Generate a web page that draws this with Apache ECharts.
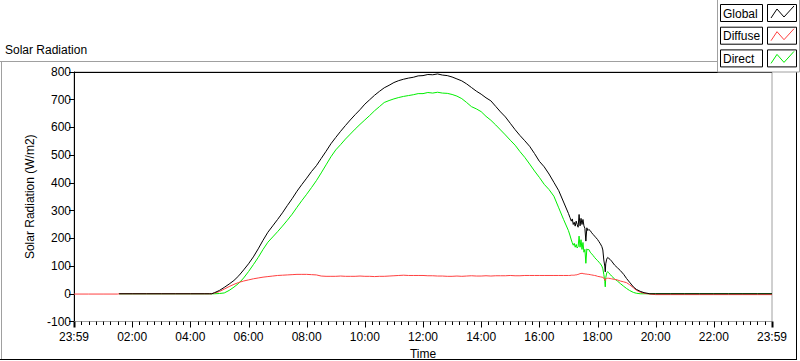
<!DOCTYPE html>
<html>
<head>
<meta charset="utf-8">
<script src="https://cdn.jsdelivr.net/npm/echarts@6/dist/echarts.min.js"></script>
<style>
html,body{margin:0;padding:0;background:#fff;}
#chart{width:800px;height:361px;}
</style>
</head>
<body>
<div id="chart"></div>
<script>
// time of day in minutes (0 and 1440 are both shown as 23:59)
const timeMin = [0,30,60,90,93,120,150,180,210,240,270,280,284,290,300,310,320,330,340,350,360,370,380,390,400,410,420,430,440,450,460,470,480,490,500,510,520,530,540,550,560,570,580,590,600,610,620,630,640,650,660,670,680,690,700,710,720,730,740,750,760,770,780,790,800,810,820,830,840,850,860,870,880,890,900,910,920,930,940,950,960,970,980,990,1000,1010,1020,1023,1026,1028,1030,1032,1034,1036,1038,1040,1042,1044,1046,1048,1050,1052,1054,1056,1058,1060,1062,1065,1068,1071,1074,1077,1080,1083,1086,1089,1091,1093,1095,1096,1097,1099,1101,1103,1106,1109,1115,1121,1127,1134,1140,1146,1154,1160,1168,1176,1188,1200,1230,1260,1290,1320,1350,1380,1410,1440];

const globalW = [null,null,null,null,0,0,0,0,0,0,0,0,0,4,12,23,35,48,65,86,108,133,162,193,222,245,268,292,318,343,370,394,417,441,462,488,514,541,564,586,607,627,646,664,684,700,716,730,743,752,762,769,774,778,781,786,787,791,790,793,789,787,782,775,768,757,744,731,720,707,696,676,656,638,615,592,571,552,532,506,478,458,432,402,372,331,290,276,262,270,250,258,244,262,250,240,286,245,272,250,268,245,236,190,238,228,232,228,220,214,208,202,196,188,180,170,158,122,100,79,108,125,131,128,124,118,104,94,84,70,55,42,25,16,9,4,0,0,0,0,0,0,0,0,0,0];

const diffuseW = [-1,-1,-1,-1,0,0,0,0,0,0,0,0,0,3,8,17,26,34,41,46,50,54,57,60,62,64,66,67,68,69,70,70,70,69,68,64,63,63,63,64,63,63,63,64,63,63,62,63,63,64,65,66,67,66,66,66,66,65,65,64,64,63,63,64,63,64,65,64,64,65,64,65,65,65,66,65,65,66,66,66,66,66,66,66,66,66,66,66,67,67,67,67,68,68,69,70,71,73,73,74,73,72,72,71,71,70,70,69,68,67,66,65,63,62,61,60,59,57,50,48,54,56,56,56,55,54,52,50,46,43,40,33,22,13,6,2,-1,-3,-3,-3,-3,-3,-3,-3,-3,-3];

const directW = [null,null,null,null,0,0,0,0,0,0,0,0,0,0,1,3,12,24,38,57,80,105,131,160,186,205,224,244,265,287,312,336,359,383,408,436,465,494,519,538,558,576,594,611,627,643,660,675,690,697,703,708,712,715,718,722,722,726,724,727,724,723,719,713,704,690,675,667,657,640,626,609,591,573,554,536,513,492,468,443,420,395,376,352,310,268,228,212,194,184,175,182,168,178,165,170,208,168,195,160,185,150,160,110,162,158,160,150,144,138,131,125,120,114,108,100,90,70,45,25,58,75,80,76,70,64,54,46,37,27,19,12,5,2,0,0,0,0,0,0,0,0,0,0,0,0];

const seriesNames = ['Global','Diffuse','Direct'];
const yTicks = {min:-100, max:800, step:100};
const xTicks = {min:0, max:1440, step:120, minorStep:15};

function pairs(vals){ return timeMin.map((t,i)=>[t, vals[i]===null ? '-' : vals[i]]); }
function fmtTime(v){
  if (v===0 || v===1440) return '23:59';
  const h = Math.round(v/60);
  return (h<10?'0':'')+h+':00';
}

// tick positions along the time axis (major every 2 h, minor every 15 min)
const tickMinutes = [];
for (let m = xTicks.min; m <= xTicks.max; m += xTicks.minorStep) tickMinutes.push(m);

const FONT = 'Liberation Sans';
const chart = echarts.init(document.getElementById('chart'), null, {renderer:'svg'});

function legendItem(i, name, color){
  const y0 = 4 + i*22.7;
  const pts = [[771,y0+14],[777,y0+5],[784,y0+13],[794,y0+2]];
  return [
    {type:'rect', shape:{x:720.5,y:y0+0.5,width:42,height:17}, style:{fill:'#fff',stroke:'#000',lineWidth:1}, z:101},
    {type:'text', x:723, y:y0+9.5, style:{text:name, fill:'#000', font:'12px '+FONT, textVerticalAlign:'middle'}, z:102},
    {type:'rect', shape:{x:767.5,y:y0+0.5,width:29,height:17}, style:{fill:'#fff',stroke:'#000',lineWidth:1}, z:101},
    {type:'polyline', shape:{points:pts}, style:{stroke:color, lineWidth:1, fill:null}, z:102}
  ];
}

const colors = ['#000000','#ff4040','#00ee00'];

const frame = [
  {type:'line', shape:{x1:74,y1:72.5,x2:772,y2:72.5}, style:{stroke:'#000',lineWidth:1}, z:90},
  {type:'line', shape:{x1:0,y1:61.5,x2:717,y2:61.5}, style:{stroke:'#a0a0a0',lineWidth:1}, z:90},
  {type:'line', shape:{x1:1.5,y1:61.5,x2:1.5,y2:360}, style:{stroke:'#a0a0a0',lineWidth:1}, z:90},
  {type:'line', shape:{x1:0,y1:359.5,x2:797,y2:359.5}, style:{stroke:'#000',lineWidth:1}, z:90},
  {type:'line', shape:{x1:796.5,y1:72,x2:796.5,y2:360}, style:{stroke:'#000',lineWidth:1}, z:90},
  {type:'rect', shape:{x:717.5,y:-1,width:82,height:73}, style:{fill:'#fff',stroke:'#a0a0a0',lineWidth:1}, z:100}
].concat(legendItem(0,seriesNames[0],colors[0]), legendItem(1,seriesNames[1],colors[1]), legendItem(2,seriesNames[2],colors[2]));

const option = {
  animation:false,
  backgroundColor:'#fff',
  textStyle:{fontFamily:FONT},
  title:{text:'Solar Radiation', left:5, top:44, padding:0, textStyle:{fontSize:12, fontWeight:'normal', color:'#000', fontFamily:FONT}},
  grid:{left:74, right:28, top:72, bottom:39.5, containLabel:false, outerBoundsMode:'none', show:true, borderColor:'#a0a0a0', borderWidth:1},
  xAxis:{
    type:'value', position:'bottom', min:xTicks.min, max:xTicks.max, interval:xTicks.step,
    name:'Time', nameLocation:'middle', nameGap:26,
    nameTextStyle:{fontSize:12, color:'#000', fontFamily:FONT},
    axisLine:{show:true, onZero:false, lineStyle:{color:'#a0a0a0', width:1}},
    axisTick:{show:false},
    axisLabel:{formatter:fmtTime, fontSize:12, color:'#000', margin:9, fontFamily:FONT},
    splitLine:{show:false}
  },
  yAxis:{
    type:'value', min:yTicks.min, max:yTicks.max, interval:yTicks.step,
    name:'Solar Radiation (W/m2)', nameLocation:'middle', nameGap:37, nameRotate:90,
    nameTextStyle:{fontSize:12, color:'#000', fontFamily:FONT},
    axisLine:{show:true, onZero:false, lineStyle:{color:'#000'}},
    axisTick:{show:true, length:5, lineStyle:{color:'#000'}},
    axisLabel:{fontSize:12, color:'#000', margin:3, fontFamily:FONT},
    splitLine:{show:false}
  },
  series:[
    {name:seriesNames[2], type:'line', data:pairs(directW), showSymbol:false, lineStyle:{color:colors[2], width:1}, itemStyle:{color:colors[2]}, z:2},
    {name:seriesNames[1], type:'line', data:pairs(diffuseW), showSymbol:false, lineStyle:{color:colors[1], width:1}, itemStyle:{color:colors[1]}, z:3},
    {name:seriesNames[0], type:'line', data:pairs(globalW), showSymbol:false, lineStyle:{color:colors[0], width:1}, itemStyle:{color:colors[0]}, z:4},
    {
      name:'timeTicks', type:'custom', silent:true, clip:false, z:10,
      data: tickMinutes.map(m => [m, yTicks.min]),
      encode:{x:0, y:1},
      renderItem: function(params, api){
        const m = api.value(0);
        const p = api.coord([m, yTicks.min]);
        const major = (m % xTicks.step) === 0;
        const edge = (m === xTicks.min || m === xTicks.max);
        const x = Math.round(p[0]) + 0.5;
        return {
          type:'line',
          shape:{x1:x, y1:p[1], x2:x, y2:p[1] + (major ? 6 : 3.5)},
          style:{stroke:'#000', lineWidth: edge ? 2 : 1}
        };
      }
    }
  ],
  graphic:frame
};
chart.setOption(option);
</script>
</body>
</html>
